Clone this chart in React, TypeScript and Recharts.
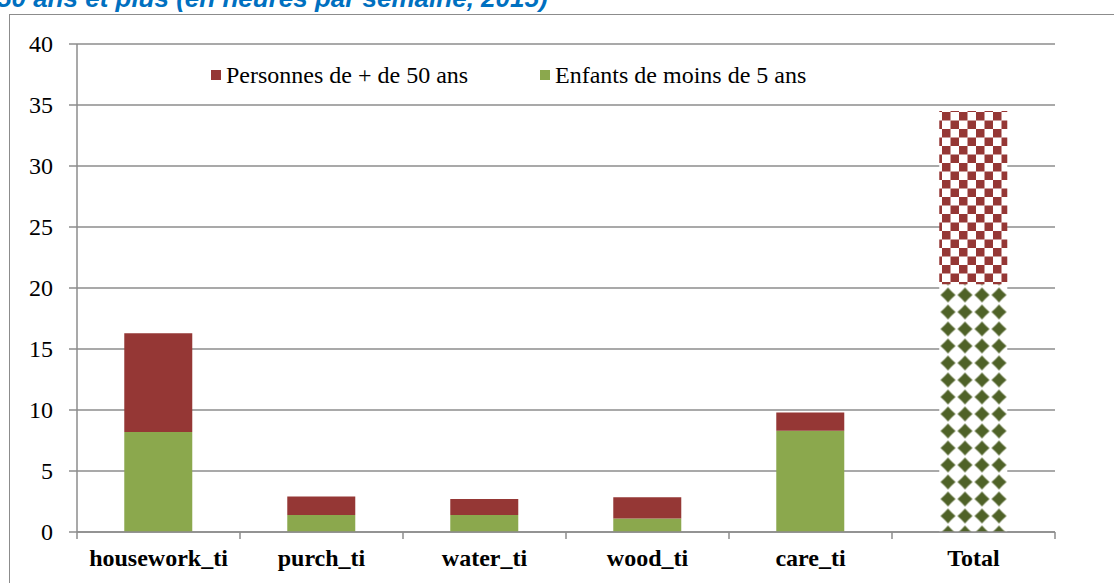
import React from "react";
import { BarChart, Bar, XAxis, YAxis, CartesianGrid, Cell } from "recharts";

const categories = ["housework_ti", "purch_ti", "water_ti", "wood_ti", "care_ti", "Total"];
const enfants = [8.2, 1.4, 1.4, 1.1, 8.3, 20.3];
const personnes = [8.1, 1.5, 1.3, 1.75, 1.5, 14.2];
const yTicks = [0, 5, 10, 15, 20, 25, 30, 35, 40];
const seriesNames = ["Personnes de + de 50 ans", "Enfants de moins de 5 ans"];

const data = categories.map((c, i) => ({ name: c, enfants: enfants[i], personnes: personnes[i] }));

const RED = "#953735";
const GREEN = "#8BA84D";
const DARKGREEN = "#4F6228";
const GRID = "#8c8c8c";
const SERIF = "'Liberation Serif', 'Times New Roman', serif";

const XTick = (props: any) => {
  const { x, y, payload, index } = props;
  const off = payload && payload.offset ? payload.offset : 81.5;
  const isLast = index === categories.length - 1;
  return (
    <g>
      <line x1={x - off} x2={x - off} y1={y} y2={y + 7} stroke={GRID} strokeWidth={1.5} />
      {isLast && <line x1={x + off} x2={x + off} y1={y} y2={y + 7} stroke={GRID} strokeWidth={1.5} />}
      <text x={x} y={y + 34} textAnchor="middle" fontFamily={SERIF} fontWeight="bold" fontSize={24} fill="#000">
        {payload.value}
      </text>
    </g>
  );
};

const YTick = (props: any) => {
  const { x, y, payload } = props;
  return (
    <text x={x} y={y} dy={8} textAnchor="end" fontFamily={SERIF} fontSize={24} fill="#000">
      {payload.value}
    </text>
  );
};

export default function App() {
  return (
    <div style={{ position: "fixed", left: 0, top: 0, width: 1114, height: 583, overflow: "hidden", background: "#fff" }}>
      <div style={{ position: "absolute", left: -3, top: -15, fontFamily: "'Liberation Sans', Arial, sans-serif", fontWeight: "bold", fontStyle: "italic", fontSize: 26, lineHeight: "26px", color: "#0070C0", whiteSpace: "nowrap" }}>
        50 ans et plus (en heures par semaine, 2015)
      </div>
      <div style={{ position: "absolute", left: 9, top: 14, width: 1200, height: 700, border: "1px solid #8c8c8c", boxSizing: "border-box" }} />
      <div style={{ position: "absolute", left: 0, top: 0 }}>
        <BarChart width={1114} height={583} data={data} margin={{ top: 44, right: 59, left: 0, bottom: 11 }} barCategoryGap="29%">
          <defs>
            <pattern id="checker" patternUnits="userSpaceOnUse" width={17} height={17} x={7} y={10}>
              <rect width={17} height={17} fill="#fff" />
              <rect x={0} y={0} width={8.5} height={8.5} fill={RED} />
              <rect x={8.5} y={8.5} width={8.5} height={8.5} fill={RED} />
            </pattern>
            <pattern id="diamonds" patternUnits="userSpaceOnUse" width={17} height={17} x={4.5} y={14.5}>
              <rect width={17} height={17} fill="#fff" />
              <polygon points="8.5,1 11.2,4 13,5.8 16,8.5 13,11.2 11.2,13 8.5,16 5.8,13 4,11.2 1,8.5 4,5.8 5.8,4" fill={DARKGREEN} />
            </pattern>
          </defs>
          <CartesianGrid vertical={false} stroke={GRID} strokeWidth={1.5} />
          <XAxis dataKey="name" height={40} axisLine={{ stroke: GRID, strokeWidth: 1.5 }} tickLine={false} tickSize={0} tickMargin={0} tick={<XTick />} interval={0} />
          <YAxis
            width={77}
            domain={[0, 40]}
            ticks={yTicks}
            interval={0}
            axisLine={{ stroke: GRID, strokeWidth: 1.5 }}
            tickLine={{ stroke: GRID, strokeWidth: 1.5 }}
            tickSize={8}
            tickMargin={16}
            tick={<YTick />}
          />
          <Bar dataKey="enfants" stackId="a" fill={GREEN} isAnimationActive={false} name={seriesNames[1]}>
            {data.map((d, i) => (
              <Cell key={i} fill={d.name === "Total" ? "url(#diamonds)" : GREEN} />
            ))}
          </Bar>
          <Bar dataKey="personnes" stackId="a" fill={RED} isAnimationActive={false} name={seriesNames[0]}>
            {data.map((d, i) => (
              <Cell key={i} fill={d.name === "Total" ? "url(#checker)" : RED} />
            ))}
          </Bar>
        </BarChart>
      </div>
      <div style={{ position: "absolute", left: 211, top: 61, display: "flex", fontFamily: SERIF, fontSize: 24, lineHeight: "28px", color: "#000", alignItems: "center", whiteSpace: "nowrap" }}>
        <div style={{ display: "flex", alignItems: "center", width: 329 }}>
          <span style={{ display: "inline-block", width: 10, height: 10, background: RED, marginRight: 5 }} />
          {seriesNames[0]}
        </div>
        <div style={{ display: "flex", alignItems: "center" }}>
          <span style={{ display: "inline-block", width: 10, height: 10, background: GREEN, marginRight: 5 }} />
          {seriesNames[1]}
        </div>
      </div>
    </div>
  );
}
